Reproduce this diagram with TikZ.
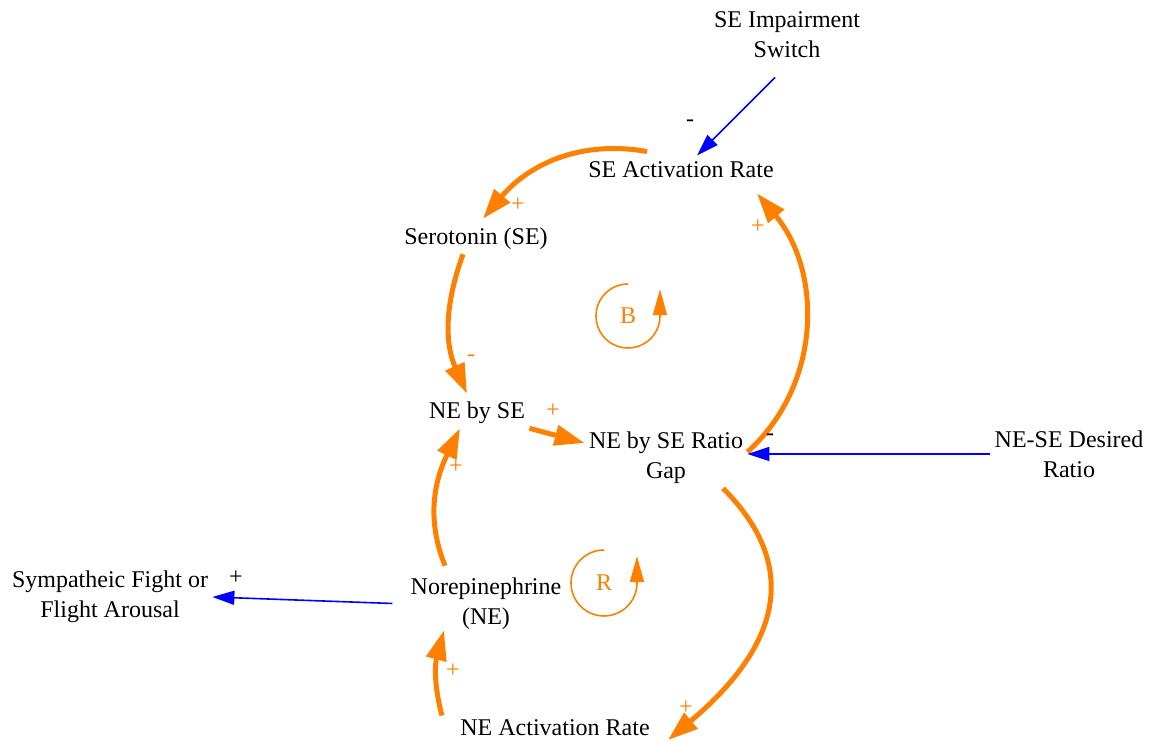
\documentclass[tikz,border=0pt]{standalone}
\usepackage{fontspec}
\setmainfont{Liberation Serif}
\usetikzlibrary{arrows.meta}
\definecolor{loopcol}{RGB}{255,128,0}

\begin{document}
\begin{tikzpicture}[x=0.5pt, y=0.5pt,
  every node/.style={font=\fontsize{12}{15}\selectfont, align=center, inner sep=2pt},
  link/.style={draw=loopcol, line width=2.5pt, -{Triangle[length=15pt,width=10pt]}},
  wire/.style={draw=blue, line width=0.8pt, -{Triangle[length=11pt,width=7pt]}},
  loopline/.style={draw=loopcol, line width=0.8pt, -{Triangle[length=13pt,width=7pt]}},
  pol/.style={text=loopcol}]
  \useasboundingbox (0,0) rectangle (1153,742);
  \node (0) at (787,707) {SE Impairment\\Switch};
  \node (1) at (681,572) {SE Activation Rate};
  \node (2) at (476,503) {Serotonin (SE)};
  \node (3) at (477,329) {NE by SE};
  \node (4) at (666,284) {NE by SE Ratio\\Gap};
  \node (5) at (555,14) {NE Activation Rate};
  \node (6) at (486,138) {Norepinephrine\\(NE)};
  \node (7) at (1069,288) {NE-SE Desired\\Ratio};
  \node (8) at (110,145) {Sympatheic Fight or\\Flight Arousal};
  \node[pol] (9) at (628,426) {B};
  \node[pol] (10) at (604,159) {R};
  \draw[link] ([xshift=-17pt,yshift=3pt]1.north) to[out=170,in=50] ([xshift=3.5pt,yshift=2.5pt]2.north);
  \draw[link] ([xshift=-6.5pt]2.south) to[out=250,in=114] ([xshift=-5pt,yshift=2pt]3.north);
  \draw[link] (3.south east) -- ([yshift=7.5pt]4.west);
  \draw[link] ([yshift=3pt]4.east) to[out=42,in=-50] ([xshift=38pt,yshift=-5.5pt]1.south);
  \draw[link] ([xshift=28.5pt]4.south) to[out=-45,in=40,looseness=1.25] ([xshift=7pt,yshift=-6pt]5.east);
  \draw[link] ([xshift=-7pt]5.north west) to[out=105,in=255] ([xshift=-21pt,yshift=2pt]6.south);
  \draw[link] ([xshift=-20.5pt,yshift=4pt]6.north) to[out=112,in=244] ([xshift=-8.5pt]3.south);
  \draw[wire] (7.west) -- (7.west -| 4.east);
  \draw[wire] ([xshift=-6pt,yshift=-7.5pt]0.south) -- ([xshift=8pt,yshift=1pt]1.north);
  \draw[wire, shorten <=7pt] (6.west) -- (8.east);
  \draw[loopline] ([yshift=16pt]9.center) arc[start angle=90, end angle=358, radius=16pt] -- ++(0,28);
  \draw[loopline] ([yshift=16.5pt]10.center) arc[start angle=90, end angle=358, radius=16.5pt] -- ++(0,28);
  \node[pol] (11) at (518,537) {+};
  \node[pol] (12) at (471,384) {-};
  \node[pol] (13) at (553,331) {+};
  \node[pol] (14) at (758,515) {+};
  \node[pol] (15) at (686,34) {+};
  \node[pol] (16) at (453,71) {+};
  \node[pol] (17) at (456,275) {+};
  \node (18) at (770,305) {-};
  \node (19) at (690,619) {-};
  \node (20) at (236,164) {+};
\end{tikzpicture}
\end{document}
